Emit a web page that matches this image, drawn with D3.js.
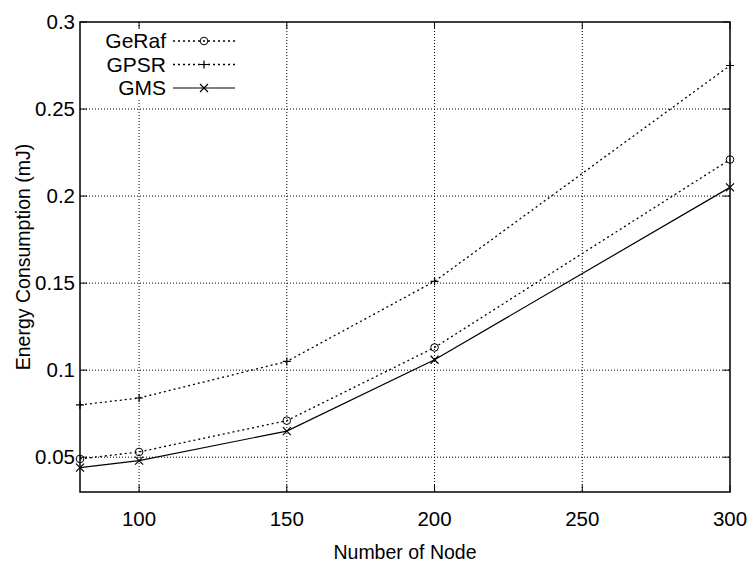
<!DOCTYPE html>
<html><head><meta charset="utf-8">
<script src="https://cdn.jsdelivr.net/npm/d3@7"></script>
<style>body{margin:0;background:#fff}svg{display:block}text{font-family:"Liberation Sans",Arial,sans-serif;fill:#000}</style>
</head><body><svg id="c" width="755" height="571"></svg>
<script>
const nodes = [80, 100, 150, 200, 300];
const geraf = [0.049, 0.053, 0.071, 0.113, 0.221];
const gpsr = [0.080, 0.084, 0.105, 0.151, 0.275];
const gms = [0.044, 0.048, 0.065, 0.106, 0.205];
const xTicks = [100, 150, 200, 250, 300];
const yTicks = [0.05, 0.1, 0.15, 0.2, 0.25, 0.3];
const seriesNames = ["GeRaf", "GPSR", "GMS"];

const svg = d3.select("#c");
const L = 80, R = 730, T = 22, B = 492;
const x = d3.scaleLinear().domain([80, 300]).range([L, R]);
const y = d3.scaleLinear().domain([0.03, 0.3]).range([B, T]);

const g = svg.append("g");
// grid
g.selectAll(".gx").data(xTicks.filter(d => d < 300)).enter().append("line")
  .attr("x1", d => x(d)).attr("x2", d => x(d)).attr("y1", T).attr("y2", B)
  .attr("stroke", "#000").attr("stroke-width", 1).attr("stroke-dasharray", "1,2");
g.selectAll(".gy").data(yTicks.filter(d => d < 0.3)).enter().append("line")
  .attr("x1", L).attr("x2", R).attr("y1", d => y(d)).attr("y2", d => y(d))
  .attr("stroke", "#000").attr("stroke-width", 1).attr("stroke-dasharray", "1,2");

// legend background
g.append("rect").attr("x", L + 2).attr("y", T + 4).attr("width", 158).attr("height", 74).attr("fill", "#fff");

// ticks (mirror)
const tl = 7;
xTicks.forEach(d => {
  g.append("line").attr("x1", x(d)).attr("x2", x(d)).attr("y1", B).attr("y2", B - tl).attr("stroke", "#000");
  g.append("line").attr("x1", x(d)).attr("x2", x(d)).attr("y1", T).attr("y2", T + tl).attr("stroke", "#000");
});
yTicks.forEach(d => {
  g.append("line").attr("x1", L).attr("x2", L + tl).attr("y1", y(d)).attr("y2", y(d)).attr("stroke", "#000");
  g.append("line").attr("x1", R).attr("x2", R - tl).attr("y1", y(d)).attr("y2", y(d)).attr("stroke", "#000");
});
// border
g.append("rect").attr("x", L).attr("y", T).attr("width", R - L).attr("height", B - T)
  .attr("fill", "none").attr("stroke", "#000").attr("stroke-width", 1.5);

// tick labels
g.selectAll(".xl").data(xTicks).enter().append("text")
  .attr("x", d => x(d)).attr("y", B + 34).attr("text-anchor", "middle")
  .attr("font-size", 20.5).text(d => d);
g.selectAll(".yl").data(yTicks).enter().append("text")
  .attr("x", L - 5).attr("y", d => y(d) + 7).attr("text-anchor", "end")
  .attr("font-size", 20.5).text(d => d);

// axis titles
svg.append("text").attr("x", (L + R) / 2).attr("y", 559).attr("text-anchor", "middle")
  .attr("font-size", 19.5).text("Number of Node");
svg.append("text").attr("transform", `translate(30,${(T + B) / 2}) rotate(-90)`)
  .attr("text-anchor", "middle").attr("font-size", 19.5).text("Energy Consumption (mJ)");

// series
const series = [
  {name: seriesNames[0], vals: geraf, dash: "2,3", marker: "circle"},
  {name: seriesNames[1], vals: gpsr, dash: "2,3", marker: "plus"},
  {name: seriesNames[2], vals: gms, dash: null, marker: "cross"}
];
const line = d3.line().x(d => x(d[0])).y(d => y(d[1]));
function marker(sel, type, cx, cy) {
  const s = 4;
  if (type === "circle") {
    sel.append("circle").attr("cx", cx).attr("cy", cy).attr("r", 3.8).attr("fill", "none").attr("stroke", "#000").attr("stroke-width", 1);
  } else if (type === "plus") {
    sel.append("path").attr("d", `M${cx - s},${cy}H${cx + s}M${cx},${cy - s}V${cy + s}`).attr("stroke", "#000").attr("stroke-width", 1.2);
  } else {
    sel.append("path").attr("d", `M${cx - s},${cy - s}L${cx + s},${cy + s}M${cx - s},${cy + s}L${cx + s},${cy - s}`).attr("stroke", "#000").attr("stroke-width", 1.2);
  }
}
series.forEach((s, i) => {
  const pts = nodes.map((n, j) => [n, s.vals[j]]);
  const p = g.append("path").attr("d", line(pts)).attr("fill", "none").attr("stroke", "#000").attr("stroke-width", s.dash ? 1.3 : 1.2);
  if (s.dash) p.attr("stroke-dasharray", s.dash);
  pts.forEach(pt => marker(g, s.marker, x(pt[0]), y(pt[1])));
  // legend
  const ly = 41 + i * 23.5;
  g.append("text").attr("x", 166).attr("y", ly + 7).attr("text-anchor", "end").attr("font-size", 21).text(s.name);
  const ll = g.append("line").attr("x1", 173).attr("x2", 235).attr("y1", ly).attr("y2", ly).attr("stroke", "#000").attr("stroke-width", s.dash ? 1.3 : 1.2);
  if (s.dash) ll.attr("stroke-dasharray", s.dash);
  marker(g, s.marker, 204, ly);
});
</script></body></html>
